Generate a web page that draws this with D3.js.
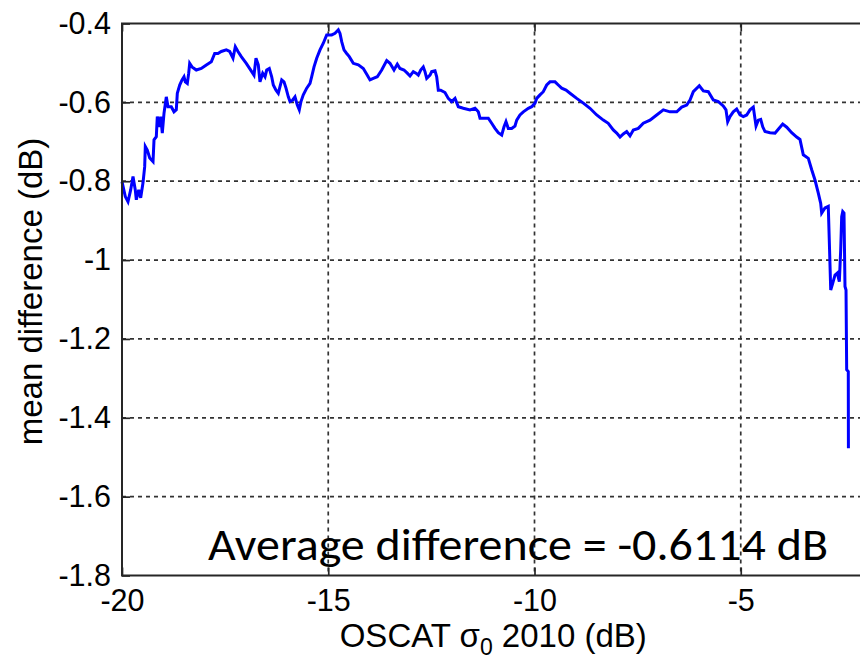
<!DOCTYPE html>
<html>
<head>
<meta charset="utf-8">
<script src="https://cdn.jsdelivr.net/npm/d3@7"></script>
<style>
  html, body { margin: 0; padding: 0; background: #fff; }
  svg { display: block; }
</style>
</head>
<body>
<svg id="chart" width="860" height="661"></svg>
<script>
// OSCAT sigma0 bins (dB) and the mean difference in each bin (dB)
const sigma0 = [
  -20.000, -19.920, -19.855, -19.790, -19.733, -19.678, -19.653, -19.595, -19.547, -19.491,
  -19.450, -19.435, -19.387, -19.328, -19.248, -19.224, -19.168, -19.144, -19.086, -19.062,
  -19.023, -18.982, -18.926, -18.885, -18.805, -18.739, -18.684, -18.659, -18.601, -18.545,
  -18.497, -18.465, -18.417, -18.383, -18.359, -18.303, -18.199, -18.078, -17.956, -17.835,
  -17.753, -17.673, -17.593, -17.472, -17.389, -17.309, -17.253, -17.188, -17.108, -16.987,
  -16.856, -16.800, -16.752, -16.696, -16.655, -16.589, -16.533, -16.492, -16.429, -16.371,
  -16.332, -16.267, -16.211, -16.170, -16.128, -16.073, -16.024, -15.968, -15.927, -15.862,
  -15.806, -15.750, -15.702, -15.661, -15.605, -15.522, -15.442, -15.401, -15.345, -15.280,
  -15.200, -15.120, -15.038, -14.917, -14.836, -14.756, -14.715, -14.674, -14.618, -14.553,
  -14.490, -14.393, -14.271, -14.150, -14.053, -13.988, -13.908, -13.811, -13.704, -13.583,
  -13.503, -13.406, -13.326, -13.261, -13.164, -13.084, -13.018, -12.938, -12.873, -12.817,
  -12.759, -12.696, -12.655, -12.613, -12.533, -12.492, -12.412, -12.371, -12.332, -12.274,
  -12.170, -12.090, -12.007, -11.927, -11.847, -11.726, -11.564, -11.442, -11.362, -11.321,
  -11.200, -11.120, -11.038, -10.958, -10.878, -10.795, -10.739, -10.691, -10.635, -10.553,
  -10.473, -10.431, -10.352, -10.271, -10.150, -10.068, -9.988, -9.947, -9.867, -9.787,
  -9.704, -9.624, -9.503, -9.423, -9.341, -9.236, -9.139, -8.977, -8.816, -8.655,
  -8.492, -8.332, -8.212, -8.090, -8.007, -7.927, -7.847, -7.765, -7.685, -7.604,
  -7.484, -7.362, -7.200, -7.038, -6.877, -6.715, -6.552, -6.431, -6.310, -6.230,
  -6.150, -6.004, -5.907, -5.786, -5.665, -5.545, -5.424, -5.358, -5.317, -5.261,
  -5.181, -5.099, -5.018, -4.938, -4.856, -4.776, -4.696, -4.630, -4.574, -4.516,
  -4.467, -4.412, -4.291, -4.170, -4.090, -3.983, -3.885, -3.765, -3.644, -3.564,
  -3.484, -3.362, -3.280, -3.200, -3.120, -3.062, -3.038, -2.958, -2.878, -2.848,
  -2.819, -2.771, -2.715, -2.659, -2.610, -2.577, -2.553, -2.528, -2.497, -2.473,
  -2.448, -2.432, -2.393, -2.390
];
const meanDiff = [
  -0.801, -0.839, -0.852, -0.822, -0.788, -0.822, -0.847, -0.822, -0.842, -0.804,
  -0.763, -0.712, -0.721, -0.741, -0.750, -0.695, -0.687, -0.636, -0.662, -0.636,
  -0.678, -0.628, -0.586, -0.611, -0.611, -0.624, -0.619, -0.577, -0.556, -0.543,
  -0.535, -0.548, -0.552, -0.526, -0.501, -0.510, -0.518, -0.514, -0.505, -0.497,
  -0.476, -0.476, -0.471, -0.467, -0.471, -0.488, -0.459, -0.471, -0.484, -0.501,
  -0.522, -0.531, -0.488, -0.505, -0.548, -0.526, -0.535, -0.518, -0.514, -0.535,
  -0.556, -0.569, -0.577, -0.560, -0.543, -0.548, -0.564, -0.586, -0.598, -0.594,
  -0.586, -0.607, -0.619, -0.598, -0.581, -0.564, -0.552, -0.535, -0.510, -0.488,
  -0.467, -0.450, -0.429, -0.429, -0.425, -0.416, -0.425, -0.446, -0.467, -0.476,
  -0.484, -0.501, -0.505, -0.514, -0.531, -0.543, -0.539, -0.535, -0.518, -0.494,
  -0.501, -0.518, -0.503, -0.514, -0.518, -0.526, -0.533, -0.522, -0.526, -0.531,
  -0.518, -0.510, -0.522, -0.539, -0.531, -0.522, -0.520, -0.535, -0.569, -0.569,
  -0.575, -0.590, -0.598, -0.590, -0.611, -0.615, -0.619, -0.615, -0.624, -0.640,
  -0.640, -0.640, -0.653, -0.666, -0.677, -0.683, -0.662, -0.649, -0.666, -0.666,
  -0.660, -0.645, -0.632, -0.624, -0.615, -0.611, -0.602, -0.590, -0.581, -0.573,
  -0.556, -0.548, -0.548, -0.556, -0.564, -0.569, -0.577, -0.590, -0.602, -0.615,
  -0.632, -0.645, -0.653, -0.670, -0.678, -0.688, -0.680, -0.674, -0.685, -0.670,
  -0.666, -0.653, -0.645, -0.632, -0.619, -0.624, -0.624, -0.612, -0.607, -0.594,
  -0.573, -0.558, -0.571, -0.573, -0.594, -0.598, -0.609, -0.619, -0.649, -0.636,
  -0.624, -0.617, -0.632, -0.636, -0.632, -0.619, -0.612, -0.660, -0.645, -0.643,
  -0.662, -0.674, -0.677, -0.678, -0.668, -0.655, -0.663, -0.677, -0.688, -0.694,
  -0.733, -0.742, -0.771, -0.797, -0.830, -0.856, -0.881, -0.868, -0.864, -0.970,
  -1.076, -1.059, -1.038, -1.033, -1.055, -0.974, -0.890, -0.877, -0.881, -1.067,
  -1.076, -1.278, -1.283, -1.477
];

const xTicks = [-20, -15, -10, -5];
const yTicks = [-0.4, -0.6, -0.8, -1, -1.2, -1.4, -1.6, -1.8];
const xTickLabels = ["-20", "-15", "-10", "-5"];
const yTickLabels = ["-0.4", "-0.6", "-0.8", "-1", "-1.2", "-1.4", "-1.6", "-1.8"];
const averageNote = "Average difference = -0.6114 dB";

const svg = d3.select("#chart");
const W = 860, H = 661;
const plotL = 122, plotT = 23.5, plotB = 575.5, plotR = 864.5;

const x = d3.scaleLinear().domain([-20, -2]).range([plotL, plotR]);
const y = d3.scaleLinear().domain([-0.4, -1.8]).range([plotT, plotB]);

svg.append("rect").attr("width", W).attr("height", H).attr("fill", "#fff");

const axisFont = "'Liberation Sans', Arial, sans-serif";
const frameColor = "#262626";
const tickFont = 30.5;
const titleFont = 33;

// dashed grid
const grid = svg.append("g").attr("stroke", "#333").attr("stroke-width", 1.7)
  .attr("stroke-dasharray", "4,4");
grid.selectAll("line.gx").data(xTicks.slice(1)).join("line")
  .attr("x1", d => x(d)).attr("x2", d => x(d))
  .attr("y1", plotT).attr("y2", plotB);
grid.selectAll("line.gy").data(yTicks.slice(1, -1)).join("line")
  .attr("x1", plotL).attr("x2", plotR)
  .attr("y1", d => y(d)).attr("y2", d => y(d));

// data line
const line = d3.line().x((d, i) => x(sigma0[i])).y(d => y(d));
svg.append("path")
  .datum(meanDiff)
  .attr("d", line)
  .attr("fill", "none")
  .attr("stroke", "#0000ff")
  .attr("stroke-width", 3)
  .attr("stroke-linejoin", "miter");

// bottom axis with inward ticks
const xAxis = d3.axisBottom(x).tickValues(xTicks)
  .tickFormat((d, i) => xTickLabels[i]).tickSizeInner(-8).tickSizeOuter(0).tickPadding(14);
const gx = svg.append("g").attr("transform", `translate(0,${plotB})`).call(xAxis);
gx.select(".domain").remove();
gx.selectAll(".tick line").attr("stroke", frameColor).attr("stroke-width", 1.7);
gx.selectAll(".tick text").attr("font-family", axisFont).attr("font-size", tickFont)
  .attr("fill", "#000");

// top ticks
const gxt = svg.append("g").attr("transform", `translate(0,${plotT})`)
  .call(d3.axisTop(x).tickValues(xTicks).tickSizeInner(-8).tickSizeOuter(0).tickFormat(""));
gxt.select(".domain").remove();
gxt.selectAll(".tick line").attr("stroke", frameColor).attr("stroke-width", 1.7);

// left axis with inward ticks
const yAxis = d3.axisLeft(y).tickValues(yTicks)
  .tickFormat((d, i) => yTickLabels[i]).tickSizeInner(-8).tickSizeOuter(0).tickPadding(11);
const gy = svg.append("g").attr("transform", `translate(${plotL},0)`).call(yAxis);
gy.select(".domain").remove();
gy.selectAll(".tick line").attr("stroke", frameColor).attr("stroke-width", 1.7);
gy.selectAll(".tick text").attr("font-family", axisFont).attr("font-size", tickFont)
  .attr("fill", "#000");

// frame: left, top, bottom (right edge falls outside the canvas)
const frame = svg.append("g").attr("stroke", frameColor).attr("stroke-width", 2).attr("fill", "none");
frame.append("path").attr("d", `M${plotR},${plotT}H${plotL}V${plotB}H${plotR}`);

// axis titles
const xt = svg.append("text")
  .attr("x", (plotL + plotR) / 2).attr("y", 647)
  .attr("text-anchor", "middle")
  .attr("font-family", axisFont).attr("font-size", titleFont).attr("fill", "#000");
xt.append("tspan").text("OSCAT ");
xt.append("tspan").text("σ");
xt.append("tspan").attr("dy", 8).attr("font-size", 23).text("0");
xt.append("tspan").attr("dy", -8).text(" 2010 (dB)");

svg.append("text")
  .attr("transform", `translate(42,${(plotT + plotB) / 2 - 8}) rotate(-90)`)
  .attr("text-anchor", "middle")
  .attr("font-family", axisFont).attr("font-size", titleFont).attr("fill", "#000")
  .text("mean difference (dB)");

// annotation
svg.append("text")
  .attr("x", 208).attr("y", 560)
  .attr("font-family", "Carlito, Calibri, Lato, sans-serif")
  .attr("font-size", 46).attr("fill", "#000")
  .attr("textLength", 620).attr("lengthAdjust", "spacingAndGlyphs")
  .text(averageNote);
</script>
</body>
</html>
